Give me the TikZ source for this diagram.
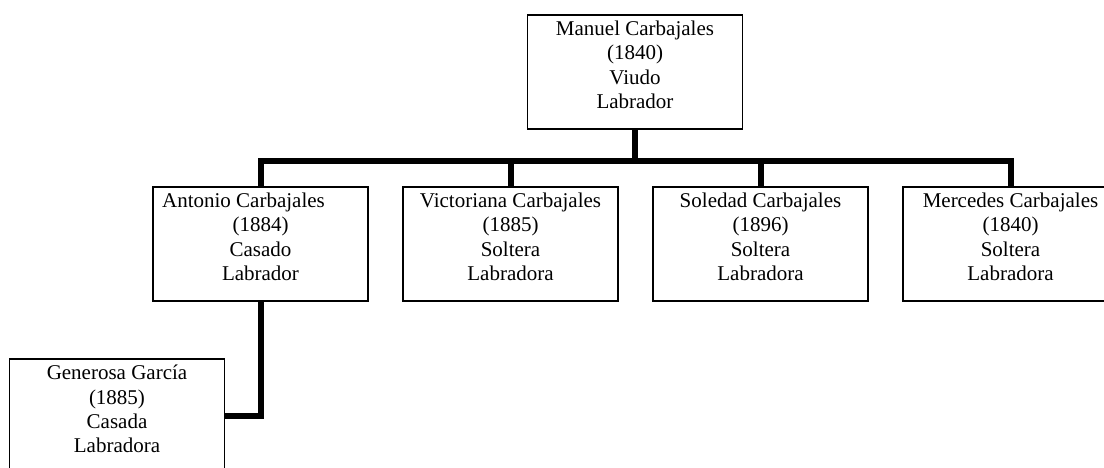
\documentclass[tikz,border=0pt]{standalone}
\usepackage{fontspec}
\setmainfont{Liberation Serif}

\begin{document}
\begin{tikzpicture}[x=1pt, y=-1pt,
  caja/.style={draw, line width=1.2pt, minimum width=215pt, minimum height=114pt, inner sep=0},
  datos/.style={anchor=north, align=center, inner sep=0, yshift=-6.5pt, font=\fontsize{21}{24.3}\selectfont},
  rama/.style={line width=6pt}]

  % marco de la figura
  \useasboundingbox (0,0) rectangle (1104,468);

  % padre
  \node[caja] (manuel) at (635,72) {};
  \node[datos] (manuel-t) at (manuel.north) {Manuel Carbajales\\(1840)\\Viudo\\Labrador};

  % hijos
  \node[caja] (antonio) at (260.5,244) {};
  \node[datos] (antonio-t) at (antonio.north) {Antonio Carbajales\hspace*{34pt}\\(1884)\\Casado\\Labrador};
  \node[caja] (victoriana) at (510.5,244) {};
  \node[datos] (victoriana-t) at (victoriana.north) {Victoriana Carbajales\\(1885)\\Soltera\\Labradora};
  \node[caja] (soledad) at (760.5,244) {};
  \node[datos] (soledad-t) at (soledad.north) {Soledad Carbajales\\(1896)\\Soltera\\Labradora};
  \node[caja] (mercedes) at (1010.5,244) {};
  \node[datos] (mercedes-t) at (mercedes.north) {Mercedes Carbajales\\(1840)\\Soltera\\Labradora};

  % esposa
  \node[caja] (generosa) at (117,416) {};
  \node[datos] (generosa-t) at (generosa.north) {Generosa García\\(1885)\\Casada\\Labradora};

  % ramas
  \coordinate (barra) at (635,161);
  \draw[rama] (manuel.south) -- (barra);
  \draw[rama] (antonio.north) -- (antonio.north |- barra) -- (mercedes.north |- barra) -- (mercedes.north);
  \draw[rama] (victoriana.north) -- (victoriana.north |- barra);
  \draw[rama] (soledad.north) -- (soledad.north |- barra);
  \draw[rama] (antonio.south) |- (generosa.east);

\end{tikzpicture}
\end{document}
